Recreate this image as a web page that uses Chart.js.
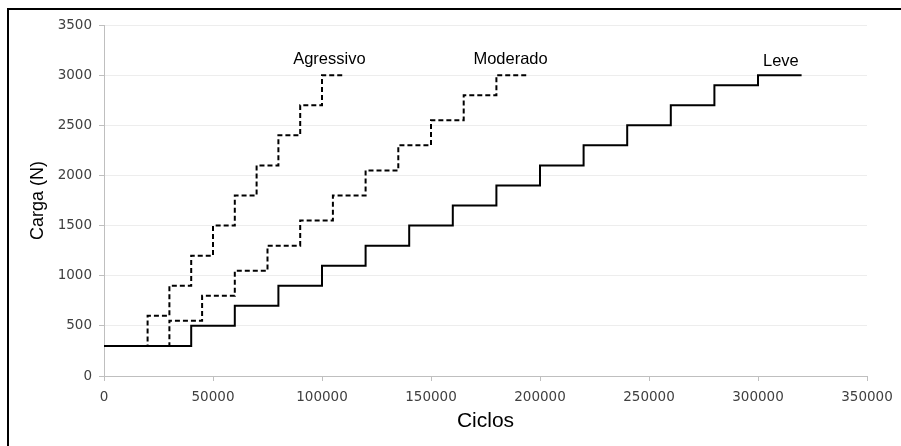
<!DOCTYPE html>
<html>
<head>
<meta charset="utf-8">
<script src="https://cdn.jsdelivr.net/npm/chart.js@4.4.1/dist/chart.umd.min.js"></script>
<style>
  html, body { margin: 0; padding: 0; background: #fff; }
  #wrap { position: relative; width: 901px; height: 446px; overflow: hidden; }
  #frame { position: absolute; left: 7px; top: 8px; right: -10px; bottom: -10px; border-left: 2px solid #000; border-top: 2px solid #000; pointer-events: none; }
</style>
</head>
<body>
<div id="wrap">
  <canvas id="cargaChart" width="901" height="446"></canvas>
  <div id="frame"></div>
</div>
<script>
// Ciclos x carga para cada protocolo (degraus)
const leveCiclos = [0, 40000, 60000, 80000, 100000, 120000, 140000, 160000, 180000, 200000, 220000, 240000, 260000, 280000, 300000, 320000];
const leveCarga = [300, 500, 700, 900, 1100, 1300, 1500, 1700, 1900, 2100, 2300, 2500, 2700, 2900, 3000, 3000];

const moderadoCiclos = [0, 30000, 45000, 60000, 75000, 90000, 105000, 120000, 135000, 150000, 165000, 180000, 195000];
const moderadoCarga = [300, 550, 800, 1050, 1300, 1550, 1800, 2050, 2300, 2550, 2800, 3000, 3000];

const agressivoCiclos = [0, 20000, 30000, 40000, 50000, 60000, 70000, 80000, 90000, 100000, 110000];
const agressivoCarga = [300, 600, 900, 1200, 1500, 1800, 2100, 2400, 2700, 3000, 3000];

// rótulos das curvas (posição em ciclos / carga)
const rotulos = ['Agressivo', 'Moderado', 'Leve'];
const rotuloCiclos = [103400, 186500, 310500];
const rotuloCarga = [3160, 3160, 3135];

function pontos(xs, ys) {
    return xs.map((x, i) => ({ x: x, y: ys[i] }));
}

const rotulosPlugin = {
    id: 'rotulos',
    afterDatasetsDraw(chart) {
        const c = chart.ctx;
        const sx = chart.scales.x, sy = chart.scales.y;
        c.save();
        c.font = '16.5px "Liberation Sans", Arial, sans-serif';
        c.fillStyle = '#000';
        c.textAlign = 'center';
        c.textBaseline = 'middle';
        rotulos.forEach((t, i) => {
            c.fillText(t, sx.getPixelForValue(rotuloCiclos[i]), sy.getPixelForValue(rotuloCarga[i]));
        });
        c.restore();
    }
};

const fonteTick = { family: '"DejaVu Sans", sans-serif', size: 13.5 };

new Chart(document.getElementById('cargaChart'), {
    type: 'scatter',
    data: {
        datasets: [
            {
                label: 'Agressivo',
                data: pontos(agressivoCiclos, agressivoCarga),
                showLine: true,
                stepped: true,
                borderColor: '#000',
                borderWidth: 2,
                borderDash: [5, 3],
                pointRadius: 0,
                order: 2
            },
            {
                label: 'Moderado',
                data: pontos(moderadoCiclos, moderadoCarga),
                showLine: true,
                stepped: true,
                borderColor: '#000',
                borderWidth: 2,
                borderDash: [5, 3],
                pointRadius: 0,
                order: 1
            },
            {
                label: 'Leve',
                data: pontos(leveCiclos, leveCarga),
                showLine: true,
                stepped: true,
                borderColor: '#000',
                borderWidth: 2,
                pointRadius: 0,
                order: 0
            }
        ]
    },
    options: {
        responsive: false,
        animation: false,
        layout: { padding: { left: 0, top: 25, right: 34, bottom: 0 } },
        plugins: {
            legend: { display: false },
            tooltip: { enabled: false }
        },
        scales: {
            x: {
                type: 'linear',
                min: 0,
                max: 350000,
                afterFit(scale) { scale.height = 70; },
                ticks: {
                    stepSize: 50000,
                    color: '#404040',
                    font: fonteTick,
                    padding: 8,
                    maxRotation: 0,
                    callback: v => String(v)
                },
                grid: { drawOnChartArea: false, drawTicks: true, tickLength: 5, tickColor: '#bfbfbf' },
                border: { color: '#bfbfbf', width: 1 },
                title: {
                    display: true,
                    text: 'Ciclos',
                    color: '#000',
                    font: { family: '"Liberation Sans", Arial, sans-serif', size: 21 },
                    padding: { top: 0, bottom: 12 }
                }
            },
            y: {
                min: 0,
                max: 3500,
                afterFit(scale) { scale.width = 104; },
                ticks: {
                    stepSize: 500,
                    color: '#404040',
                    font: fonteTick,
                    padding: 7,
                    callback: v => String(v)
                },
                grid: { color: '#ededed', drawTicks: true, tickLength: 5, tickColor: '#bfbfbf' },
                border: { color: '#bfbfbf', width: 1 },
                title: {
                    display: true,
                    text: 'Carga (N)',
                    color: '#000',
                    font: { family: '"Liberation Sans", Arial, sans-serif', size: 18 },
                    padding: { top: 27, bottom: 0 }
                }
            }
        }
    },
    plugins: [rotulosPlugin]
});
</script>
</body>
</html>
